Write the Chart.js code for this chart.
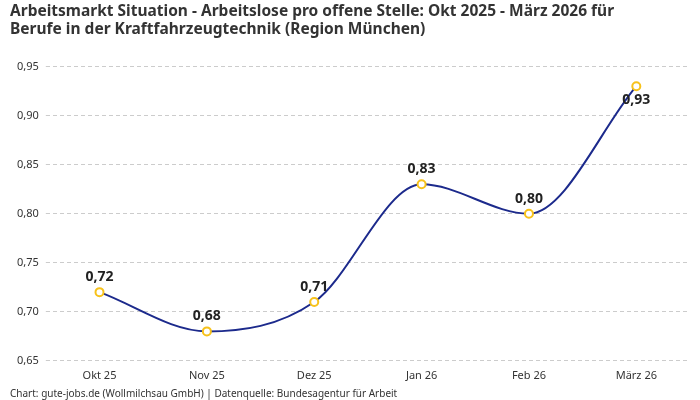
<!DOCTYPE html>
<html>
<head>
<meta charset="utf-8">
<script src="https://cdn.jsdelivr.net/npm/chart.js@4.4.1/dist/chart.umd.min.js"></script>
<style>
  html, body { margin: 0; padding: 0; background: #fff; }
  #wrap { width: 700px; height: 400px; }
</style>
</head>
<body>
<div id="wrap"><canvas id="c"></canvas></div>
<script>
  // data
  const months = ["Okt 25", "Nov 25", "Dez 25", "Jan 26", "Feb 26", "März 26"];
  const ratio = [0.72, 0.68, 0.71, 0.83, 0.80, 0.93];
  const yTicks = [0.65, 0.70, 0.75, 0.80, 0.85, 0.90, 0.95];

  const FONT = "'Noto Sans', Roboto, sans-serif";
  const fmt = v => v.toFixed(2).replace(".", ",");

  // value labels above points, flipped below when they would leave the plot area
  const valueLabels = {
    id: "valueLabels",
    afterDatasetsDraw(chart) {
      const { ctx, chartArea } = chart;
      const meta = chart.getDatasetMeta(0);
      ctx.save();
      ctx.font = "bold 14px " + FONT;
      ctx.fillStyle = "#222";
      ctx.textAlign = "center";
      ctx.textBaseline = "middle";
      meta.data.forEach((pt, i) => {
        let y = pt.y - 15;
        if (y - 8 < chartArea.top) y = pt.y + 14;
        ctx.fillText(fmt(ratio[i]), pt.x, y);
      });
      ctx.restore();
    }
  };

  new Chart(document.getElementById("c"), {
    type: "line",
    data: {
      labels: months,
      datasets: [{
        data: ratio,
        borderColor: "#1c2a8c",
        borderWidth: 2,
        cubicInterpolationMode: "monotone",
        pointRadius: 4,
        pointBorderWidth: 2,
        pointBorderColor: "#f7c21b",
        pointBackgroundColor: "#fff",
        fill: false
      }]
    },
    options: {
      responsive: true, maintainAspectRatio: false, animation: false,
      layout: { padding: { left: 10, right: 10, top: 0, bottom: 0 } },
      plugins: {
        legend: { display: false },
        tooltip: { enabled: false },
        title: {
          display: true, align: "start", color: "#333",
          text: ["Arbeitsmarkt Situation - Arbeitslose pro offene Stelle: Okt 2025 - März 2026 für",
                 "Berufe in der Kraftfahrzeugtechnik (Region München)"],
          font: { family: FONT, size: 15.5, weight: "bold", lineHeight: 1.18 },
          padding: { top: 2, bottom: 28 }
        },
        subtitle: {
          display: true, position: "bottom", align: "start", color: "#333",
          text: "Chart: gute-jobs.de (Wollmilchsau GmbH) | Datenquelle: Bundesagentur für Arbeit",
          font: { family: FONT, size: 10, lineHeight: 1.0 },
          padding: { top: 7, bottom: 1 }
        }
      },
      scales: {
        x: {
          offset: true,
          grid: { display: false },
          border: { display: false },
          ticks: { color: "#333", font: { family: FONT, size: 11 }, padding: 0 }
        },
        y: {
          min: yTicks[0], max: yTicks[yTicks.length - 1],
          afterBuildTicks: axis => { axis.ticks = yTicks.map(v => ({ value: v })); },
          grid: { color: "#cccccc", tickLength: 0 },
          border: { display: false, dash: [4, 3] },
          ticks: { color: "#333", font: { family: FONT, size: 11 }, padding: 7, callback: v => fmt(v) }
        }
      }
    },
    plugins: [valueLabels]
  });
</script>
</body>
</html>
